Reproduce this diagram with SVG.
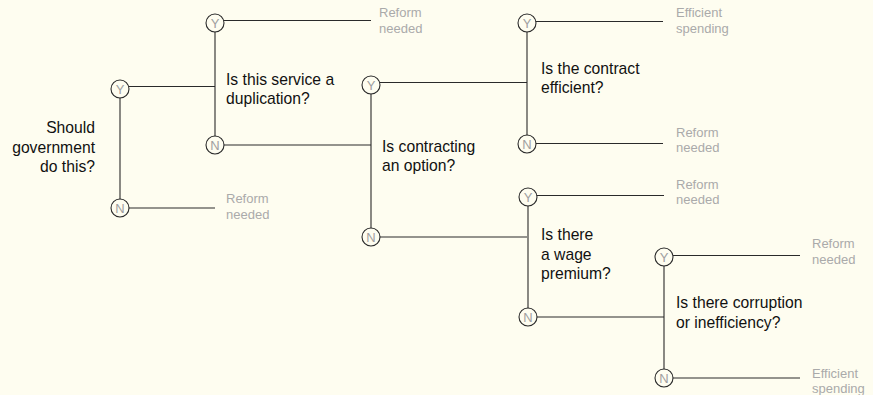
<svg xmlns="http://www.w3.org/2000/svg" width="873" height="395" viewBox="0 0 873 395">
<style>
.bg{fill:#fefdf0}
.ln{stroke:#2a2a2a;stroke-width:1.1;fill:none}
.c{fill:#fefdf0;stroke:#2a2a2a;stroke-width:1.1}
.cl{font-family:"Liberation Sans",Arial,sans-serif;font-size:13px;fill:#a0a0a0;text-anchor:middle}
.q{font-family:"Liberation Sans",Arial,sans-serif;font-size:15.7px;fill:#111}
.o{font-family:"Liberation Sans",Arial,sans-serif;font-size:13px;fill:#aaa}
</style>
<rect class="bg" x="0" y="0" width="873" height="395"/>
<g id="connectors">
<path class="ln" d="M120,89V208 M120,86.5H215 M120,208H215"/>
<path class="ln" d="M215,23V145 M215,20.5H371 M215,145H371"/>
<path class="ln" d="M371,85V237 M371,82.5H527 M371,237H527"/>
<path class="ln" d="M527,23V144 M527,21.5H663 M527,143.5H663"/>
<path class="ln" d="M528,197V317 M528,195.5H664 M528,317H664"/>
<path class="ln" d="M664,257V378 M664,255.5H800 M664,378H800"/>
</g>
<g id="q1"><text class="q" text-anchor="end"><tspan x="95" y="133">Should</tspan><tspan x="95" y="152.5">government</tspan><tspan x="95" y="172">do this?</tspan></text></g>
<g id="q1y"><circle class="c" cx="120" cy="89" r="9"/><text class="cl" x="120" y="93.7">Y</text></g>
<g id="q1n"><circle class="c" cx="120" cy="208" r="9"/><text class="cl" x="120" y="212.7">N</text></g>
<g id="o1"><text class="o"><tspan x="226" y="203">Reform</tspan><tspan x="226" y="218.5">needed</tspan></text></g>

<g id="q2"><text class="q"><tspan x="226" y="85">Is this service a</tspan><tspan x="226" y="104">duplication?</tspan></text></g>
<g id="q2y"><circle class="c" cx="215" cy="23" r="9"/><text class="cl" x="215" y="27.7">Y</text></g>
<g id="q2n"><circle class="c" cx="215" cy="145" r="9"/><text class="cl" x="215" y="149.7">N</text></g>
<g id="o2"><text class="o"><tspan x="379" y="17">Reform</tspan><tspan x="379" y="32.5">needed</tspan></text></g>

<g id="q3"><text class="q"><tspan x="382" y="151.5">Is contracting</tspan><tspan x="382" y="170.5">an option?</tspan></text></g>
<g id="q3y"><circle class="c" cx="371" cy="85" r="9"/><text class="cl" x="371" y="89.7">Y</text></g>
<g id="q3n"><circle class="c" cx="371" cy="237" r="9"/><text class="cl" x="371" y="241.7">N</text></g>

<g id="q4"><text class="q"><tspan x="541" y="74">Is the contract</tspan><tspan x="541" y="93">efficient?</tspan></text></g>
<g id="q4y"><circle class="c" cx="527" cy="23" r="9"/><text class="cl" x="527" y="27.7">Y</text></g>
<g id="q4n"><circle class="c" cx="527" cy="144" r="9"/><text class="cl" x="527" y="148.7">N</text></g>
<g id="o4y"><text class="o"><tspan x="676" y="17">Efficient</tspan><tspan x="676" y="32.5">spending</tspan></text></g>
<g id="o4n"><text class="o"><tspan x="676" y="136.5">Reform</tspan><tspan x="676" y="152">needed</tspan></text></g>

<g id="q5"><text class="q"><tspan x="541" y="240">Is there</tspan><tspan x="541" y="259.5">a wage</tspan><tspan x="541" y="279">premium?</tspan></text></g>
<g id="q5y"><circle class="c" cx="528" cy="197" r="9"/><text class="cl" x="528" y="201.7">Y</text></g>
<g id="q5n"><circle class="c" cx="528" cy="317" r="9"/><text class="cl" x="528" y="321.7">N</text></g>
<g id="o5"><text class="o"><tspan x="676" y="188.5">Reform</tspan><tspan x="676" y="204">needed</tspan></text></g>

<g id="q6"><text class="q"><tspan x="676" y="308">Is there corruption</tspan><tspan x="676" y="327.5">or inefficiency?</tspan></text></g>
<g id="q6y"><circle class="c" cx="664" cy="257" r="9"/><text class="cl" x="664" y="261.7">Y</text></g>
<g id="q6n"><circle class="c" cx="664" cy="378" r="9"/><text class="cl" x="664" y="382.7">N</text></g>
<g id="o6y"><text class="o"><tspan x="812" y="248">Reform</tspan><tspan x="812" y="263.5">needed</tspan></text></g>
<g id="o6n"><text class="o"><tspan x="812" y="377.5">Efficient</tspan><tspan x="812" y="393">spending</tspan></text></g>
</svg>
